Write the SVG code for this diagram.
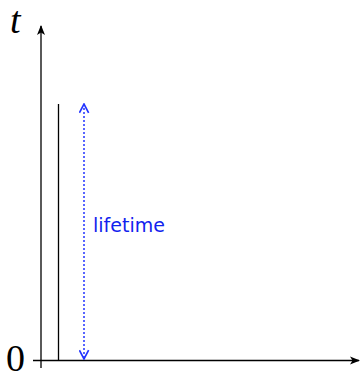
<svg xmlns="http://www.w3.org/2000/svg" width="361" height="374" viewBox="0 0 361 374">
<defs>
<style>
.axis{stroke:#000;stroke-width:1.3;fill:none}
.life{stroke:#2233ff;stroke-width:1.5;stroke-dasharray:2,2;fill:none}
.lbl{font-family:"Liberation Serif",serif;font-size:38px;fill:#000}
</style>
<marker id="ah" viewBox="0 0 10 10" refX="9" refY="5" markerWidth="10" markerHeight="10" markerUnits="userSpaceOnUse" orient="auto">
<path d="M0,1 L10,5 L0,9 L2.5,5 Z" fill="#000"/>
</marker>
<marker id="bh" viewBox="0 0 10 10" refX="9" refY="5" markerWidth="11" markerHeight="11" markerUnits="userSpaceOnUse" orient="auto-start-reverse">
<path d="M1,0.8 L9,5 L1,9.2" fill="none" stroke="#2233ff" stroke-width="1.5"/>
</marker>
</defs>
<g id="connectors">
<line class="axis" x1="41" y1="368" x2="41" y2="26" marker-end="url(#ah)"/>
<line class="axis" x1="33" y1="360.5" x2="359" y2="360.5" marker-end="url(#ah)"/>
<line class="axis" x1="58.5" y1="104" x2="58.5" y2="360.5"/>
<line class="life" x1="84" y1="104" x2="84" y2="359" marker-start="url(#bh)" marker-end="url(#bh)"/>
</g>
<g id="label-t"><text class="lbl" x="10" y="33" font-style="italic">t</text></g>
<g id="label-0"><text class="lbl" x="6" y="371">0</text></g>
<g id="label-lifetime"><text x="93" y="232" font-family="DejaVu Sans,sans-serif" font-size="19" fill="#1122ee">lifetime</text></g>
</svg>
